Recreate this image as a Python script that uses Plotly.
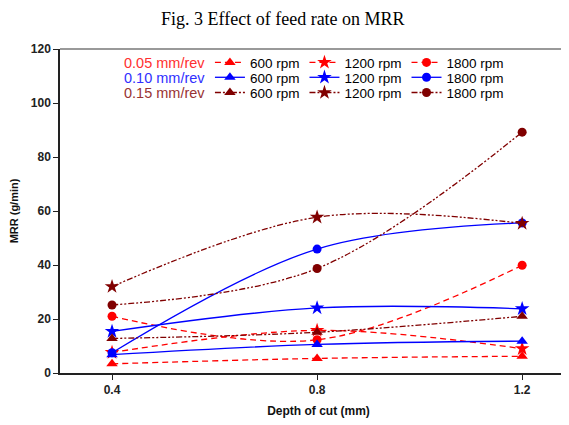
import plotly.graph_objects as go

depth = [0.4, 0.8, 1.2]

# MRR (g/min) values by feed rate and spindle speed
f005_600 = [3.4, 5.4, 6.2]
f005_1200 = [7.6, 15.8, 9.0]
f005_1800 = [21.0, 12.3, 39.9]
f010_600 = [6.8, 10.6, 11.8]
f010_1200 = [15.4, 24.1, 23.8]
f010_1800 = [7.5, 45.9, 55.6]
f015_600 = [12.8, 15.1, 21.0]
f015_1200 = [32.0, 57.7, 55.4]
f015_1800 = [25.2, 38.7, 89.2]

feed_labels = ["0.05 mm/rev", "0.10 mm/rev", "0.15 mm/rev"]
speed_labels = ["600 rpm", "1200 rpm", "1800 rpm"]
y_ticks = [0, 20, 40, 60, 80, 100, 120]
x_ticks = [0.4, 0.8, 1.2]

series = [
    [f005_600, f005_1200, f005_1800],
    [f010_600, f010_1200, f010_1800],
    [f015_600, f015_1200, f015_1800],
]
colors = ["#FF0000", "#0000FF", "#800000"]
label_colors = ["#FF3030", "#3030FF", "#993333"]
dashes = ["6px,4px", "solid", "6px,2px,2px,2px,2px,2px"]
symbols = ["triangle-up", "star", "circle"]
sizes = [10, 11, 9]
legend_names = ["legend", "legend2", "legend3"]

fig = go.Figure()
for i in range(3):
    for j in range(3):
        fig.add_trace(go.Scatter(
            x=depth, y=series[i][j], mode="lines+markers",
            name=speed_labels[j], legend=legend_names[i],
            line=dict(color=colors[i], width=1.3, dash=dashes[i], shape="spline", smoothing=1),
            marker=dict(symbol=symbols[j], size=sizes[j], color=colors[i]),
        ))

leg_y = [0.958, 0.912, 0.865]
common_leg = dict(orientation="h", x=0.29, xanchor="left", yanchor="middle",
                  bgcolor="rgba(0,0,0,0)", font=dict(family="Liberation Sans, Arial", size=13.5, color="black"),
                  itemwidth=30, tracegroupgap=0)
fig.update_layout(
    legend=dict(y=leg_y[0], **common_leg),
    legend2=dict(y=leg_y[1], **common_leg),
    legend3=dict(y=leg_y[2], **common_leg),
)

for i in range(3):
    fig.add_annotation(x=0.285, y=leg_y[i], xref="paper", yref="paper", xanchor="right", yanchor="middle",
                       text=feed_labels[i], showarrow=False, height=14, valign="middle",
                       font=dict(family="Liberation Sans, Arial", size=14.5, color=label_colors[i]))

fig.add_shape(type="line", xref="paper", yref="paper", x0=0, x1=1, y0=1, y1=1,
              line=dict(color="#777777", width=1.5))

fig.update_layout(
    width=569, height=425,
    margin=dict(l=52, r=0, t=41, b=60),
    paper_bgcolor="white", plot_bgcolor="white",
    showlegend=True,
    title=dict(text="Fig. 3 Effect of feed rate on MRR", x=0.483, xanchor="center", y=0.976, yanchor="middle",
               font=dict(family="Liberation Serif, Times New Roman", size=18, color="black")),
    xaxis=dict(range=[0.2985, 1.307], tickvals=x_ticks, ticktext=["0.4", "0.8", "1.2"],
               showgrid=False, zeroline=False, showline=True, linecolor="#222222", linewidth=1.5,
               ticks="outside", ticklen=5, tickcolor="#222222",
               tickfont=dict(family="Liberation Sans, Arial", size=12, color="#222222", weight="bold"),
               title=dict(text="<b>Depth of cut (mm)</b>", standoff=10,
                          font=dict(family="Liberation Sans, Arial", size=12, color="#111111"))),
    yaxis=dict(range=[0, 120], tickvals=y_ticks,
               showgrid=False, zeroline=False, showline=True, linecolor="#222222", linewidth=1.5,
               ticks="outside", ticklen=5, tickcolor="#222222",
               tickfont=dict(family="Liberation Sans, Arial", size=12, color="#222222", weight="bold"),
               title=dict(text="<b>MRR (g/min)</b>", standoff=11,
                          font=dict(family="Liberation Sans, Arial", size=11, color="#111111"))),
)

fig.write_html("out.html")
